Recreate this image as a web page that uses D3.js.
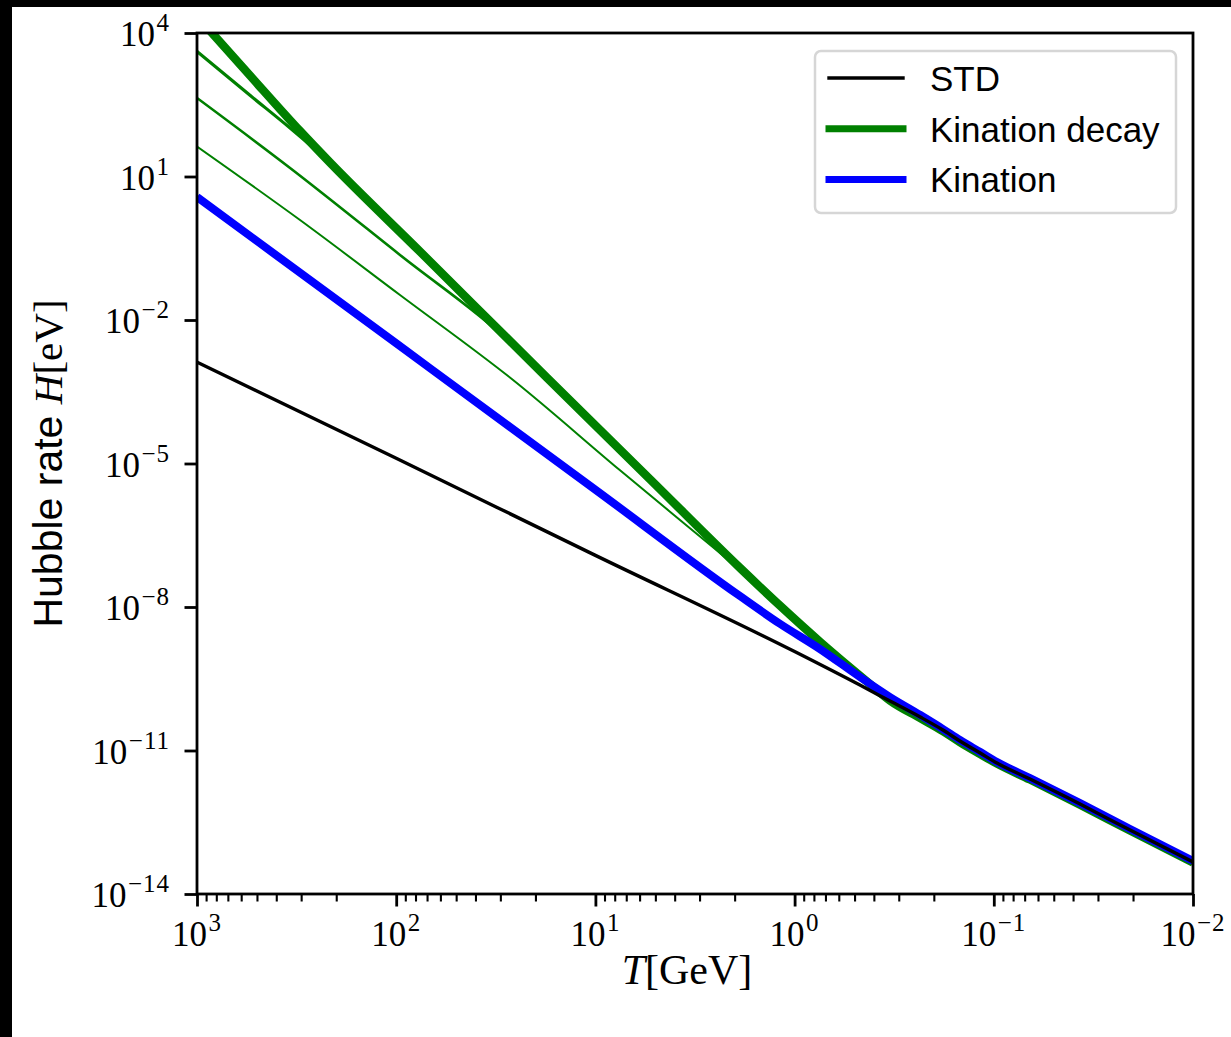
<!DOCTYPE html>
<html>
<head>
<meta charset="utf-8">
<script src="https://cdn.jsdelivr.net/npm/d3@7"></script>
<style>
body { margin: 0; background: #000; }
svg { display: block; }
</style>
</head>
<body>
<div id="chart"></div>
<script>
// values: temperature T [GeV], Hubble rate H [eV]
var T_std = [1000, 100, 10, 1, 0.47, 0.332, 0.234, 0.18, 0.148, 0.117, 0.0964, 0.0658, 0.0369, 0.0207, 0.01];
var H_std = [1.32e-3, 1.29e-5, 1.20e-7, 1.17e-9, 2.33e-10, 1.08e-10, 5.0e-11, 2.68e-11, 1.58e-11, 8.85e-12, 5.47e-12, 2.53e-12, 7.6e-13, 2.17e-13, 4.68e-14];

var T_kin = [1000, 100, 10, 1.88, 1.18, 0.745, 0.47, 0.332, 0.234, 0.18, 0.148, 0.117, 0.0964, 0.0658, 0.0369, 0.0207, 0.01];
var H_kin = [3.72, 3.25e-3, 2.83e-6, 1.69e-8, 4.41e-9, 1.32e-9, 3.44e-10, 1.31e-10, 5.52e-11, 2.81e-11, 1.66e-11, 9.3e-12, 5.74e-12, 2.65e-12, 7.96e-13, 2.29e-13, 4.9e-14];

// kination decay, main curve
var T_dec = [1000, 841, 542, 304, 215, 76, 17.5, 5.32, 1.88, 1.18, 0.745, 0.527, 0.419, 0.332, 0.234, 0.18, 0.148, 0.117, 0.0964, 0.0658, 0.0369, 0.0207, 0.01];
var H_dec = [2.26e4, 1e4, 1.29e3, 89.3, 19.6, 0.270, 6.2e-4, 4.69e-6, 6.56e-8, 1.05e-8, 1.86e-9, 5.42e-10, 2.45e-10, 1.11e-10, 4.76e-11, 2.55e-11, 1.50e-11, 8.43e-12, 5.33e-12, 2.47e-12, 7.4e-13, 2.12e-13, 4.55e-14];

// kination decay, other parameters: early part, then they lie on the main curve
var T_dec1 = [1000, 542, 341];
var H_dec1 = [4.14e3, 499, 103];
var T_dec2 = [1000, 341, 95.7, 24.8];
var H_dec2 = [438, 15.1, 0.229, 2.59e-3];
var T_dec3 = [1000, 304, 95.7, 25.9, 7.55, 2.37, 1.68];
var H_dec3 = [42.4, 1.23, 0.0333, 5.56e-4, 7.3e-6, 1.34e-7, 4.03e-8];

var xMajor = [1e3, 1e2, 1e1, 1e0, 1e-1, 1e-2];
var xExp = ["3", "2", "1", "0", "\u22121", "\u22122"];
var yMajor = [1e4, 1e1, 1e-2, 1e-5, 1e-8, 1e-11, 1e-14];
var yExp = ["4", "1", "\u22122", "\u22125", "\u22128", "\u221211", "\u221214"];

var legendNames = ["STD", "Kination decay", "Kination"];

function pts(T, H) { return T.map(function(t, i) { return [t, H[i]]; }); }
// early part of a curve followed by the main curve below temperature cut
function joinMain(T, H, cut) {
  var p = pts(T, H);
  pts(T_dec, H_dec).forEach(function(d) { if (d[0] < cut) p.push(d); });
  return p;
}

var margin = {top: 33, right: 38, bottom: 143, left: 197},
    width = 1231 - margin.left - margin.right,
    height = 1037 - margin.top - margin.bottom;

var svg = d3.select("#chart")
  .append("svg")
    .attr("width", 1231)
    .attr("height", 1037);

svg.append("rect").attr("width", 1231).attr("height", 1037).attr("fill", "#000");
svg.append("rect").attr("x", 12).attr("y", 7).attr("width", 1219).attr("height", 1030).attr("fill", "#fff");

var g = svg.append("g")
  .attr("transform", "translate(" + margin.left + "," + margin.top + ")");

var x = d3.scaleLog().domain([1e3, 1e-2]).range([0, width]);
var y = d3.scaleLog().domain([1e-14, 1e4]).range([height, 0]);

g.append("clipPath").attr("id", "clip")
  .append("rect").attr("width", width).attr("height", height);

var line = d3.line()
  .x(function(d) { return x(d[0]); })
  .y(function(d) { return y(d[1]); })
  .curve(d3.curveMonotoneX);

var lines = g.append("g").attr("clip-path", "url(#clip)");

function draw(data, color, w) {
  lines.append("path")
    .datum(data)
    .attr("fill", "none")
    .attr("stroke", color)
    .attr("stroke-width", w)
    .attr("stroke-linejoin", "round")
    .attr("d", line);
}

draw(joinMain(T_dec3, H_dec3, 1.68), "green", 2.0);
draw(joinMain(T_dec2, H_dec2, 24.8), "green", 2.6);
draw(joinMain(T_dec1, H_dec1, 300), "green", 3.2);
draw(pts(T_dec, H_dec), "green", 8.5);
draw(pts(T_kin, H_kin), "blue", 8);
draw(pts(T_std, H_std), "black", 3.4);

// minor x ticks
var xMinor = [];
for (var k = -2; k < 3; k++) {
  for (var m = 2; m < 10; m++) xMinor.push(m * Math.pow(10, k));
}

var xAxisMinor = g.append("g")
  .attr("transform", "translate(0," + height + ")")
  .call(d3.axisBottom(x).tickValues(xMinor).tickSize(7.5).tickFormat(""));
var xAxis = g.append("g")
  .attr("transform", "translate(0," + height + ")")
  .call(d3.axisBottom(x).tickValues(xMajor).tickSize(12.5).tickFormat(""));
var yAxis = g.append("g")
  .call(d3.axisLeft(y).tickValues(yMajor).tickSize(12.5).tickFormat(""));

g.selectAll(".domain").remove();
xAxisMinor.selectAll("line").attr("stroke-width", 2.1);
xAxis.selectAll("line").attr("stroke-width", 2.8);
yAxis.selectAll("line").attr("stroke-width", 2.8);

// frame
g.append("rect")
  .attr("width", width).attr("height", height)
  .attr("fill", "none").attr("stroke", "#000").attr("stroke-width", 2.8);

// power-of-ten tick labels
function pow10(sel, e) {
  sel.attr("font-family", "'Liberation Serif', 'DejaVu Serif', serif")
    .attr("font-size", 35)
    .attr("fill", "#000");
  sel.append("tspan").text("10");
  sel.append("tspan").attr("dx", 1.5).attr("dy", -15).attr("font-size", 25)
    .attr("letter-spacing", 1).text(e);
}

xMajor.forEach(function(v, i) {
  g.append("text")
    .attr("x", x(v)).attr("y", height + 52)
    .attr("text-anchor", "middle")
    .call(pow10, xExp[i]);
});
yMajor.forEach(function(v, i) {
  g.append("text")
    .attr("x", -27).attr("y", y(v) + 13)
    .attr("text-anchor", "end")
    .call(pow10, yExp[i]);
});

// axis labels
var xl = g.append("text")
  .attr("x", width / 2 - 8).attr("y", height + 90)
  .attr("text-anchor", "middle")
  .attr("font-family", "'Liberation Serif', serif")
  .attr("font-size", 42);
xl.append("tspan").attr("font-style", "italic").text("T");
xl.append("tspan").text("[GeV]");

var yl = svg.append("text")
  .attr("transform", "translate(62," + (margin.top + height / 2) + ") rotate(-90)")
  .attr("text-anchor", "middle")
  .attr("font-size", 41);
yl.append("tspan").attr("font-family", "'Liberation Sans', Arial, sans-serif").text("Hubble rate ");
yl.append("tspan").attr("font-family", "'Liberation Serif', serif").attr("font-style", "italic").text("H");
yl.append("tspan").attr("font-family", "'Liberation Serif', serif").text("[eV]");

// legend
var leg = svg.append("g");
leg.append("rect")
  .attr("x", 815).attr("y", 51).attr("width", 361).attr("height", 162)
  .attr("rx", 6).attr("fill", "#fff")
  .attr("stroke", "#d6d6d6").attr("stroke-width", 2.5);

var legColor = ["black", "green", "blue"];
var legWidth = [3.4, 7, 7];
legendNames.forEach(function(name, i) {
  var yy = 78 + i * 50.7;
  leg.append("line")
    .attr("x1", 829).attr("x2", 903).attr("y1", yy).attr("y2", yy)
    .attr("stroke", legColor[i]).attr("stroke-width", legWidth[i])
    .attr("stroke-linecap", "square");
  leg.append("text")
    .attr("x", 930).attr("y", yy + 13)
    .attr("font-family", "'Liberation Sans', Arial, sans-serif")
    .attr("font-size", 35)
    .text(name);
});
</script>
</body>
</html>
